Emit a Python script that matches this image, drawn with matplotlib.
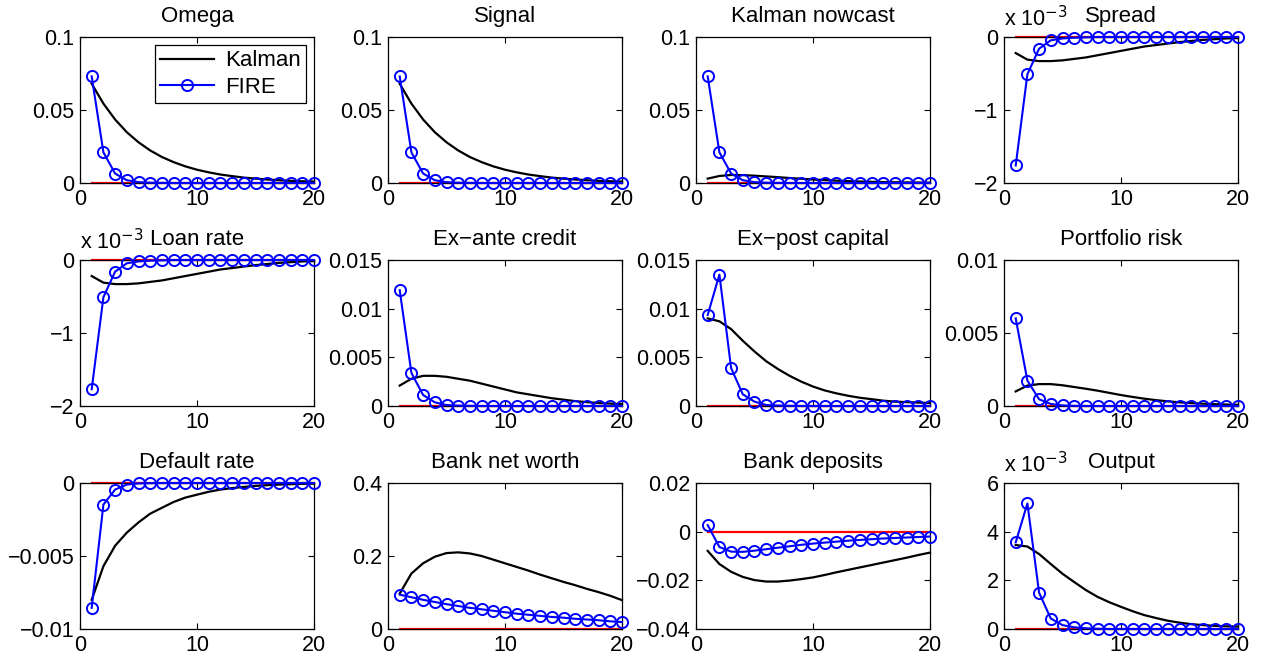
import numpy as np
import matplotlib
matplotlib.use("Agg")
import matplotlib.pyplot as plt

# --- DATA ---
PERIODS = list(range(1, 21))

OMEGA_KALMAN = [0.068, 0.0544, 0.0435, 0.0348, 0.0279, 0.0223, 0.0178, 0.0143, 0.0114, 0.0091,
                0.0073, 0.0058, 0.0047, 0.0037, 0.0030, 0.0024, 0.0019, 0.0015, 0.0012, 0.0010]
OMEGA_FIRE = [0.073, 0.021, 0.0065, 0.0019, 0.0006, 0.0002, 0.0001, 0, 0, 0,
              0, 0, 0, 0, 0, 0, 0, 0, 0, 0]

SIGNAL_KALMAN = [0.068, 0.0544, 0.0435, 0.0348, 0.0279, 0.0223, 0.0178, 0.0143, 0.0114, 0.0091,
                 0.0073, 0.0058, 0.0047, 0.0037, 0.0030, 0.0024, 0.0019, 0.0015, 0.0012, 0.0010]
SIGNAL_FIRE = [0.073, 0.021, 0.0065, 0.0019, 0.0006, 0.0002, 0.0001, 0, 0, 0,
               0, 0, 0, 0, 0, 0, 0, 0, 0, 0]

NOWCAST_KALMAN = [0.003, 0.0048, 0.0055, 0.0054, 0.0050, 0.0045, 0.0040, 0.0034, 0.0029, 0.0024,
                  0.0020, 0.0016, 0.0013, 0.0010, 0.0008, 0.0006, 0.0005, 0.0004, 0.0003, 0.0002]
NOWCAST_FIRE = [0.073, 0.021, 0.0065, 0.0019, 0.0006, 0.0002, 0.0001, 0, 0, 0,
                0, 0, 0, 0, 0, 0, 0, 0, 0, 0]

# spread and loan rate in units of 1e-3
SPREAD_KALMAN = [-0.22, -0.31, -0.33, -0.33, -0.32, -0.30, -0.28, -0.25, -0.22, -0.19,
                 -0.16, -0.13, -0.11, -0.09, -0.07, -0.055, -0.04, -0.03, -0.02, -0.015]
SPREAD_FIRE = [-1.76, -0.51, -0.16, -0.045, -0.02, -0.01, -0.005, 0, 0, 0,
               0, 0, 0, 0, 0, 0, 0, 0, 0, 0]

LOAN_KALMAN = [-0.22, -0.31, -0.33, -0.33, -0.32, -0.30, -0.28, -0.25, -0.22, -0.19,
               -0.16, -0.13, -0.11, -0.09, -0.07, -0.055, -0.04, -0.03, -0.02, -0.015]
LOAN_FIRE = [-1.77, -0.51, -0.16, -0.045, -0.02, -0.01, -0.005, 0, 0, 0,
             0, 0, 0, 0, 0, 0, 0, 0, 0, 0]

CREDIT_KALMAN = [0.0021, 0.0028, 0.0031, 0.0031, 0.0030, 0.0028, 0.0026, 0.0023, 0.0020, 0.0017,
                 0.0014, 0.0012, 0.0010, 0.0008, 0.00065, 0.0005, 0.0004, 0.0003, 0.00025, 0.0002]
CREDIT_FIRE = [0.0119, 0.0034, 0.00113, 0.00038, 0.0001, 0.00004, 0.00002, 0, 0, 0,
               0, 0, 0, 0, 0, 0, 0, 0, 0, 0]

CAPITAL_KALMAN = [0.0090, 0.0087, 0.0079, 0.0067, 0.0056, 0.0046, 0.0038, 0.0031, 0.0025, 0.0020,
                  0.0016, 0.0013, 0.00105, 0.00085, 0.0007, 0.00055, 0.00045, 0.0004, 0.00035, 0.0003]
CAPITAL_FIRE = [0.00935, 0.0135, 0.0039, 0.0012, 0.00045, 0.0001, 0.00005, 0.00002, 0, 0,
                0, 0, 0, 0, 0, 0, 0, 0, 0, 0]

RISK_KALMAN = [0.0010, 0.0014, 0.0015, 0.0015, 0.00142, 0.0013, 0.00118, 0.00105, 0.0009, 0.00075,
               0.00062, 0.0005, 0.0004, 0.00032, 0.00025, 0.0002, 0.00016, 0.00013, 0.0001, 0.00008]
RISK_FIRE = [0.0060, 0.00174, 0.00046, 0.00014, 0.00004, 0.00001, 0, 0, 0, 0,
             0, 0, 0, 0, 0, 0, 0, 0, 0, 0]

DEFAULT_KALMAN = [-0.0080, -0.0057, -0.0043, -0.0034, -0.0027, -0.0021, -0.0017, -0.0013, -0.0010, -0.0008,
                  -0.0006, -0.00045, -0.00035, -0.00027, -0.0002, -0.00015, -0.00011, -0.00008, -0.00006, -0.00004]
DEFAULT_FIRE = [-0.00855, -0.00148, -0.00045, -0.00011, -0.00003, -0.00001, 0, 0, 0, 0,
                0, 0, 0, 0, 0, 0, 0, 0, 0, 0]

NETWORTH_KALMAN = [0.097, 0.152, 0.180, 0.198, 0.208, 0.210, 0.207, 0.200, 0.190, 0.180,
                   0.170, 0.160, 0.149, 0.139, 0.129, 0.120, 0.110, 0.101, 0.091, 0.079]
NETWORTH_FIRE = [0.094, 0.087, 0.080, 0.074, 0.068, 0.063, 0.058, 0.054, 0.050, 0.046,
                 0.042, 0.039, 0.036, 0.033, 0.031, 0.028, 0.026, 0.024, 0.021, 0.019]

DEPOSITS_KALMAN = [-0.0079, -0.0133, -0.0165, -0.0186, -0.0199, -0.0205, -0.0205, -0.0201, -0.0195, -0.0188,
                   -0.0178, -0.0167, -0.0157, -0.0147, -0.0137, -0.0127, -0.0117, -0.0107, -0.0096, -0.0086]
DEPOSITS_FIRE = [0.0027, -0.0063, -0.0082, -0.0083, -0.0078, -0.0072, -0.0066, -0.0060, -0.0054, -0.0049,
                 -0.0045, -0.0041, -0.0037, -0.0034, -0.0031, -0.0028, -0.0026, -0.0024, -0.0022, -0.0020]

# output in units of 1e-3
OUTPUT_KALMAN = [3.45, 3.39, 3.08, 2.67, 2.27, 1.93, 1.60, 1.32, 1.10, 0.91,
                 0.73, 0.57, 0.45, 0.34, 0.26, 0.20, 0.16, 0.13, 0.11, 0.10]
OUTPUT_FIRE = [3.56, 5.16, 1.49, 0.43, 0.16, 0.07, 0.03, 0.01, 0, 0,
               0, 0, 0, 0, 0, 0, 0, 0, 0, 0]

TITLES = ["Omega", "Signal", "Kalman nowcast", "Spread",
          "Loan rate", "Ex\u2212ante credit", "Ex\u2212post capital", "Portfolio risk",
          "Default rate", "Bank net worth", "Bank deposits", "Output"]

KALMAN = [OMEGA_KALMAN, SIGNAL_KALMAN, NOWCAST_KALMAN, SPREAD_KALMAN,
          LOAN_KALMAN, CREDIT_KALMAN, CAPITAL_KALMAN, RISK_KALMAN,
          DEFAULT_KALMAN, NETWORTH_KALMAN, DEPOSITS_KALMAN, OUTPUT_KALMAN]
FIRE = [OMEGA_FIRE, SIGNAL_FIRE, NOWCAST_FIRE, SPREAD_FIRE,
        LOAN_FIRE, CREDIT_FIRE, CAPITAL_FIRE, RISK_FIRE,
        DEFAULT_FIRE, NETWORTH_FIRE, DEPOSITS_FIRE, OUTPUT_FIRE]

YTICKS = [[0, 0.05, 0.1], [0, 0.05, 0.1], [0, 0.05, 0.1], [-2, -1, 0],
          [-2, -1, 0], [0, 0.005, 0.01, 0.015], [0, 0.005, 0.01, 0.015], [0, 0.005, 0.01],
          [-0.01, -0.005, 0], [0, 0.2, 0.4], [-0.04, -0.02, 0, 0.02], [0, 2, 4, 6]]
YTICKLABELS = [["0", "0.05", "0.1"], ["0", "0.05", "0.1"], ["0", "0.05", "0.1"], ["\u22122", "\u22121", "0"],
               ["\u22122", "\u22121", "0"], ["0", "0.005", "0.01", "0.015"], ["0", "0.005", "0.01", "0.015"],
               ["0", "0.005", "0.01"], ["\u22120.01", "\u22120.005", "0"], ["0", "0.2", "0.4"],
               ["\u22120.04", "\u22120.02", "0", "0.02"], ["0", "2", "4", "6"]]
SCALED = [False, False, False, True, True, False, False, False, False, False, False, True]

# --- STYLE ---
TICK_FONT = 15.5
TITLE_FONT = 16
W, H = 1263, 664
LEFTS = [80, 388, 696, 1004]
TOPS = [37, 260, 483]
AX_W, AX_H = 234, 146

plt.rcParams['font.family'] = ['Liberation Sans', 'DejaVu Sans']
plt.rcParams['axes.unicode_minus'] = True


def main():
    fig = plt.figure(figsize=(W / 100, H / 100), dpi=100)
    x = np.array(PERIODS)

    for i, title in enumerate(TITLES):
        r, c = divmod(i, 4)
        rect = [LEFTS[c] / W, 1 - (TOPS[r] + AX_H) / H, AX_W / W, AX_H / H]
        ax = fig.add_axes(rect)

        k, = ax.plot(x, KALMAN[i], color='black', linewidth=1.6, zorder=3, clip_on=False)
        f, = ax.plot(x, FIRE[i], color='blue', linewidth=1.5, marker='o',
                     markersize=8, markerfacecolor='none', markeredgewidth=1.4,
                     zorder=4, clip_on=False)
        ax.plot(x, np.zeros_like(x), color='red', linewidth=1.6, zorder=2, clip_on=False)

        ax.set_xlim(0, 20)
        ax.set_xticks([0, 10, 20])
        yt = YTICKS[i]
        ax.set_ylim(yt[0], yt[-1])
        ax.set_yticks(yt)
        ax.set_yticklabels(YTICKLABELS[i])
        ax.tick_params(direction='in', length=4, width=0.8, top=True, right=True,
                       labelsize=TICK_FONT, pad=4)
        for sp in ax.spines.values():
            sp.set_linewidth(0.9)
        ax.set_title(title, fontsize=TITLE_FONT, pad=11)

        if SCALED[i]:
            ax.text(0.0, 1.04, r'x 10$^{-3}$', transform=ax.transAxes,
                    ha='left', va='bottom', fontsize=TICK_FONT)

        if i == 0:
            leg = ax.legend([k, f], ['Kalman', 'FIRE'], loc='upper right',
                            fancybox=False, edgecolor='black', framealpha=1,
                            borderaxespad=0.35, handlelength=2.4, borderpad=0.25,
                            labelspacing=0.25, handletextpad=0.5, fontsize=TITLE_FONT)
            leg.get_frame().set_linewidth(0.9)

    fig.savefig('out.png', dpi=100)


if __name__ == "__main__":
    main()
